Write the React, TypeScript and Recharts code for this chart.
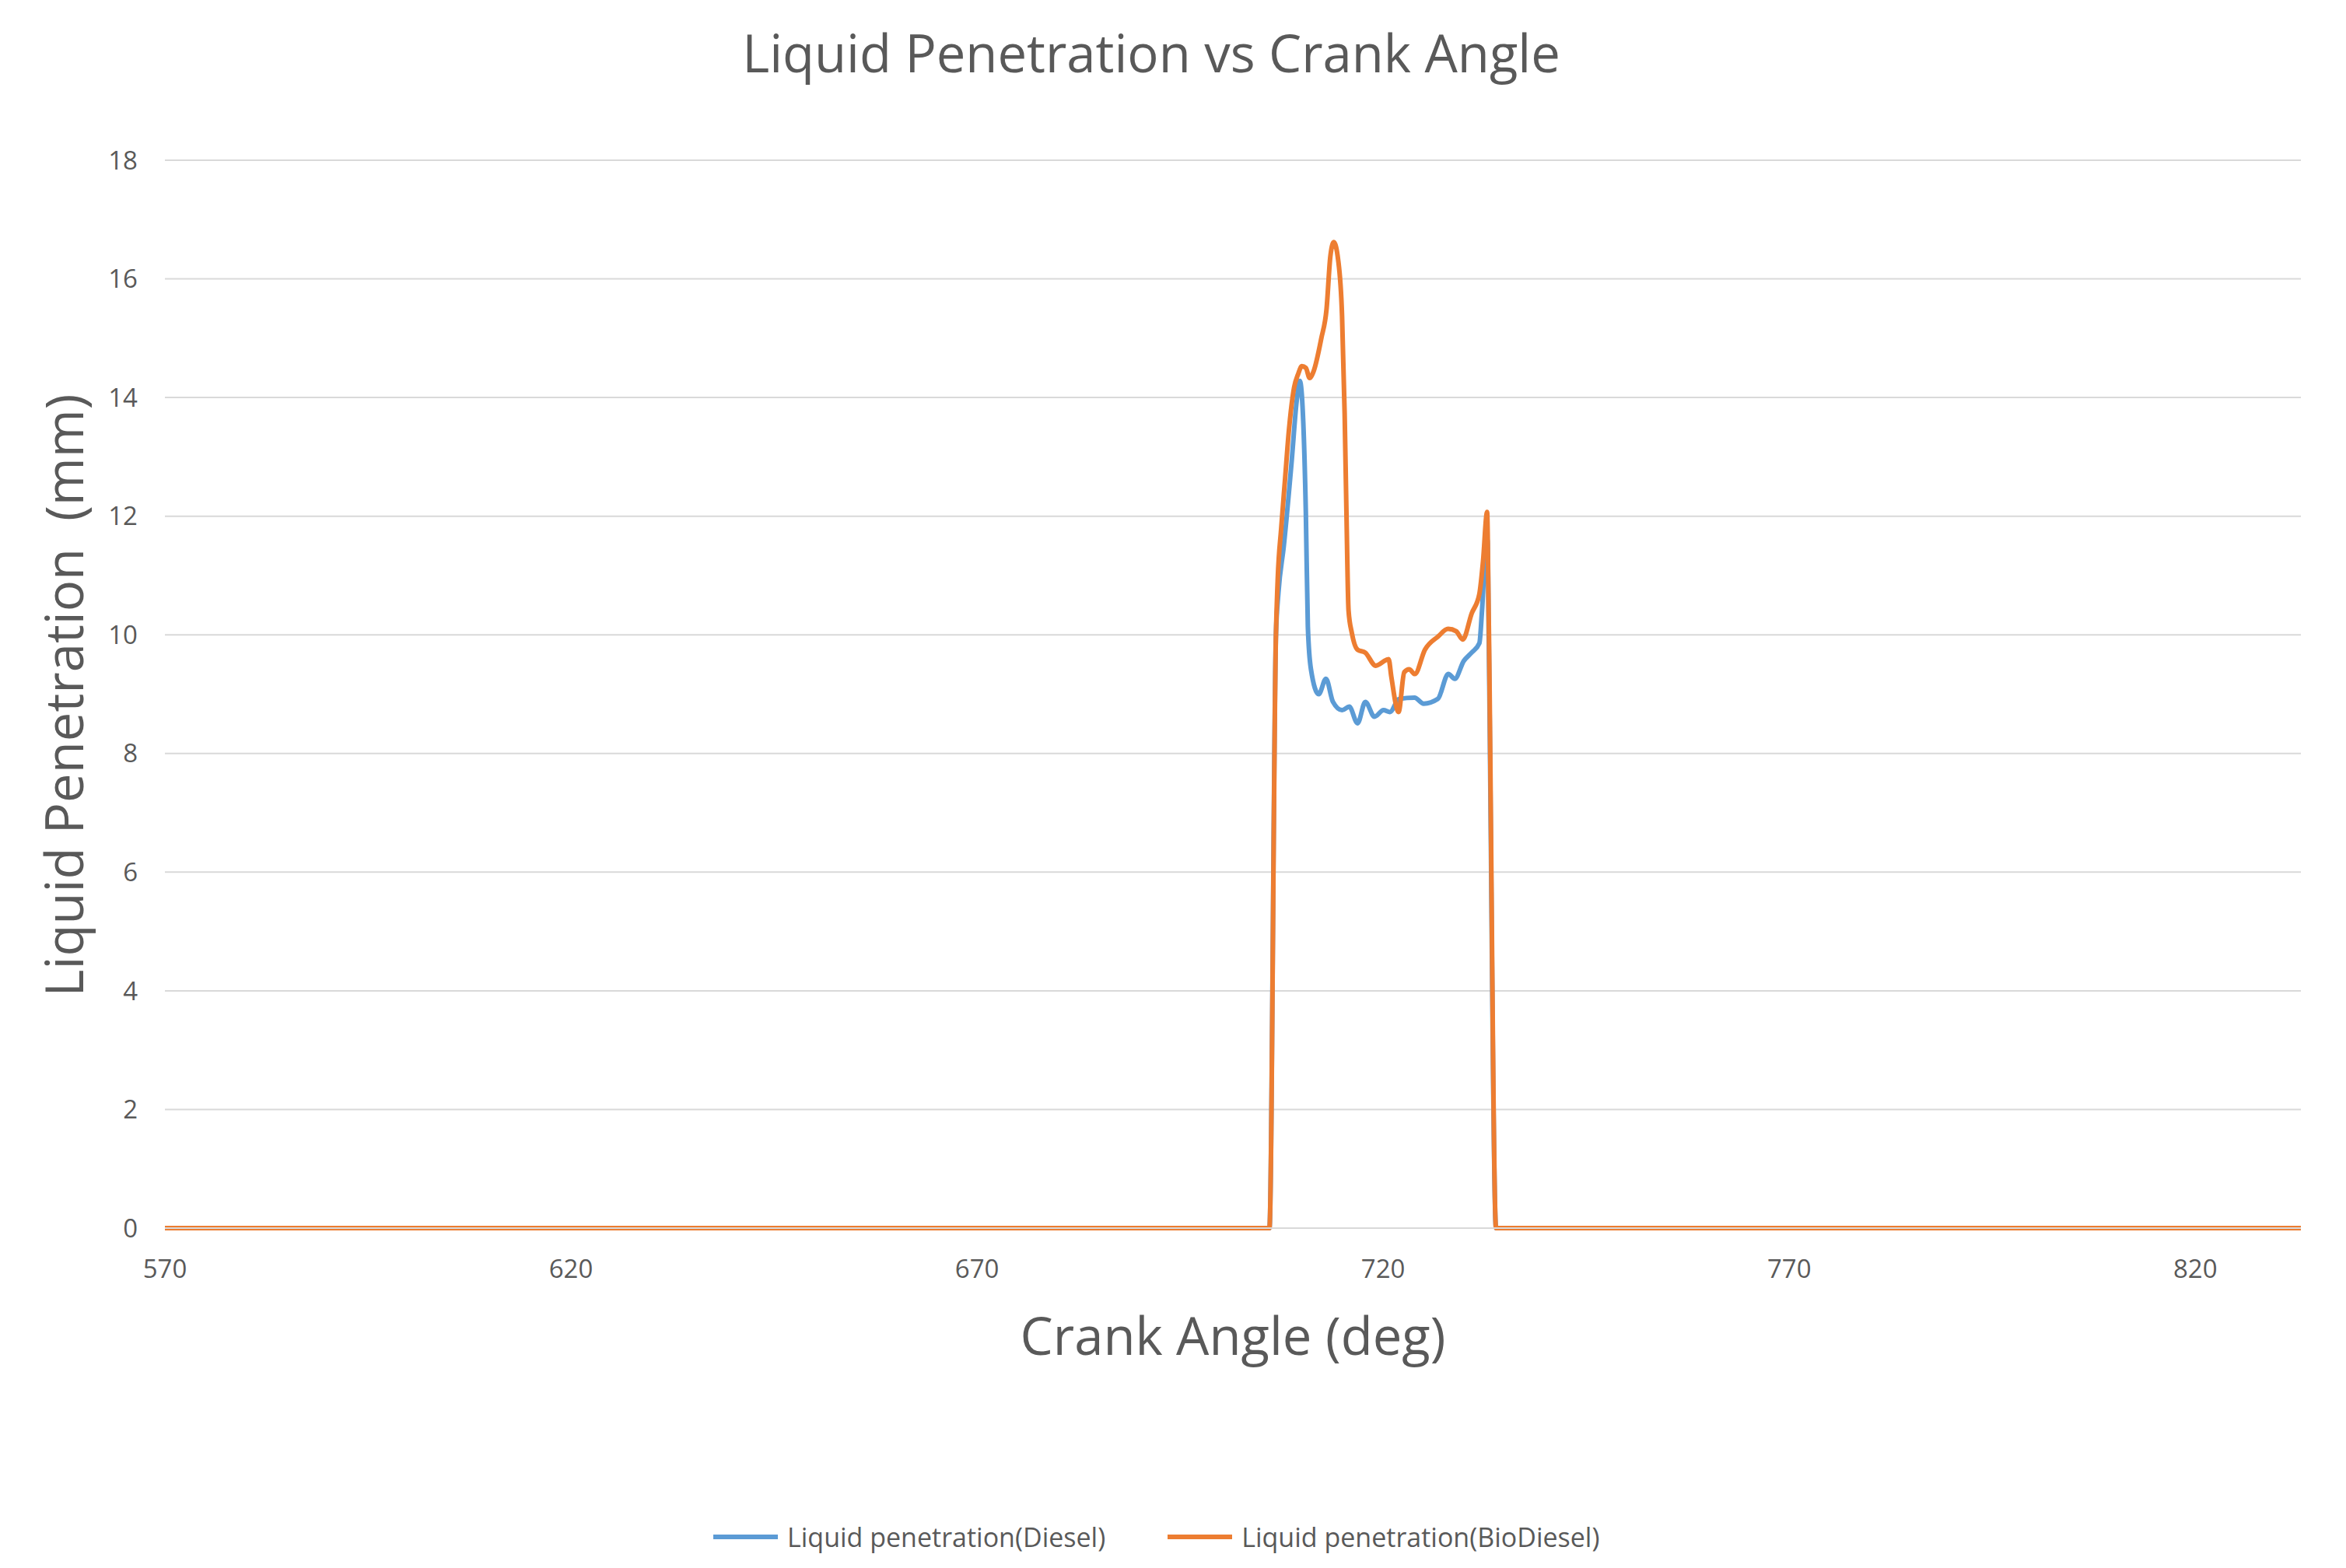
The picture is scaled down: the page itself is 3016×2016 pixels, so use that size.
import { LineChart, Line, XAxis, YAxis, CartesianGrid, Legend } from 'recharts';

const xTicks = [570, 620, 670, 720, 770, 820];
const yTicks = [0, 2, 4, 6, 8, 10, 12, 14, 16, 18];

const dieselAngle = [
  570, 706.0, 706.8, 707.1, 707.77, 708.72, 709.36, 709.74, 710.16, 710.48, 710.73, 711.11,
  712.07, 712.96, 713.82, 714.94, 715.83, 716.85, 717.81, 718.93, 720.05, 720.84, 721.96,
  723.87, 724.99, 726.74, 728.02, 728.82, 729.93, 730.89, 731.85, 732.17, 732.64, 732.85,
  733.0, 733.9, 833,
];
const dieselValue = [
  0, 0, 10, 10.7, 11.5, 12.9, 13.95, 14.28, 13.6, 12.07, 10.14, 9.42,
  9.0, 9.26, 8.87, 8.73, 8.79, 8.51, 8.87, 8.62, 8.73, 8.7, 8.92,
  8.94, 8.84, 8.92, 9.34, 9.26, 9.56, 9.7, 9.86, 10.4, 11.5, 11.6,
  10, 0, 0,
];

const bioAngle = [
  570, 706.0, 706.8, 707.03, 707.45, 707.92, 708.4, 709.04, 709.52, 710.0, 710.48, 710.95,
  711.43, 712.39, 713.03, 713.5, 713.92, 714.46, 714.94, 715.26, 715.48, 715.74, 716.15,
  716.85, 717.8, 719.09, 720.68, 721.0, 721.9, 722.6, 723.2, 723.9, 725.15, 726.75, 728.0,
  729.0, 729.8, 730.9, 731.85, 732.3, 732.8, 733.0, 733.9, 833,
];
const bioValue = [
  0, 0, 10, 10.97, 11.8, 12.62, 13.45, 14.17, 14.39, 14.53, 14.5, 14.33,
  14.44, 15.0, 15.49, 16.38, 16.62, 16.32, 15.38, 13.73, 12.07, 10.41, 10.03,
  9.75, 9.7, 9.48, 9.59, 9.3, 8.7, 9.37, 9.42, 9.34, 9.75, 9.97, 10.1,
  10.06, 9.92, 10.36, 10.69, 11.24, 12.07, 10.3, 0, 0,
];

const dieselData = dieselAngle.map((angle, i) => ({ angle, value: dieselValue[i] }));
const bioData = bioAngle.map((angle, i) => ({ angle, value: bioValue[i] }));

const BLUE = '#5B9BD5';
const ORANGE = '#ED7D31';
const TEXT = '#595959';
const FONT = '"Open Sans", sans-serif';

function LegendContent() {
  const items = [
    { name: 'Liquid penetration(Diesel)', color: BLUE },
    { name: 'Liquid penetration(BioDiesel)', color: ORANGE },
  ];
  return (
    <div style={{ display: 'flex', justifyContent: 'flex-start', alignItems: 'center', gap: 80, paddingLeft: 917, fontFamily: FONT, fontSize: 34, color: TEXT }}>
      {items.map((it) => (
        <div key={it.name} style={{ display: 'flex', alignItems: 'center' }}>
          <span style={{ display: 'inline-block', width: 83, height: 6, background: it.color, marginRight: 12 }} />
          <span>{it.name}</span>
        </div>
      ))}
    </div>
  );
}

export default function App() {
  return (
    <div style={{ position: 'absolute', left: 0, top: 0, width: 3016, height: 2016, background: '#fff', fontFamily: FONT }}>
      <div style={{ position: 'absolute', left: 1480, top: 67, transform: 'translate(-50%, -50%)', fontSize: 67, color: TEXT, whiteSpace: 'nowrap' }}>
        Liquid Penetration vs Crank Angle
      </div>
      <div style={{ position: 'absolute', left: 1585, top: 1716, transform: 'translate(-50%, -50%)', fontSize: 67, color: TEXT, whiteSpace: 'nowrap' }}>
        Crank Angle (deg)
      </div>
      <div style={{ position: 'absolute', left: 81, top: 894, transform: 'translate(-50%, -50%) rotate(-90deg)', fontSize: 67, color: TEXT, whiteSpace: 'pre' }}>
        Liquid Penetration  (mm)
      </div>
      <LineChart width={3016} height={2016} margin={{ top: 206, right: 58, bottom: 377, left: 0 }}>
        <CartesianGrid vertical={false} stroke="#d9d9d9" strokeWidth={2} />
        <XAxis
          type="number"
          dataKey="angle"
          domain={[570, 833]}
          ticks={xTicks}
          allowDataOverflow
          height={60}
          tickLine={false}
          tickSize={0}
          tickMargin={41}
          axisLine={{ stroke: '#d9d9d9', strokeWidth: 2 }}
          tick={{ fill: TEXT, fontSize: 33, fontFamily: FONT }}
        />
        <YAxis
          type="number"
          domain={[0, 18]}
          ticks={yTicks}
          width={212}
          tickLine={false}
          tickSize={0}
          tickMargin={35}
          axisLine={false}
          tick={{ fill: TEXT, fontSize: 33, fontFamily: FONT }}
        />
        <Legend layout="horizontal" verticalAlign="middle" wrapperStyle={{ top: 1953, left: 0, width: 3016 }} content={() => <LegendContent />} />
        <Line data={dieselData} dataKey="value" name="Liquid penetration(Diesel)" type="monotone" stroke={BLUE} strokeWidth={6} dot={false} isAnimationActive={false} />
        <Line data={bioData} dataKey="value" name="Liquid penetration(BioDiesel)" type="monotone" stroke={ORANGE} strokeWidth={6} dot={false} isAnimationActive={false} />
      </LineChart>
    </div>
  );
}
